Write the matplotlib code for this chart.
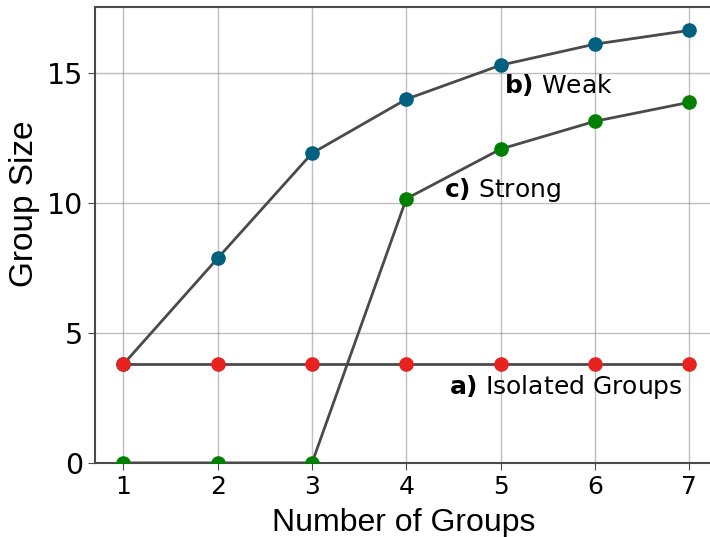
import matplotlib.pyplot as plt

# Tamanho médio dos grupos por número de grupos
n_grupos = [1, 2, 3, 4, 5, 6, 7]
isolados = [3.8, 3.8, 3.8, 3.8, 3.8, 3.8, 3.8]
fraco = [3.8, 7.88, 11.92, 14.0, 15.31, 16.12, 16.65]
forte = [0.0, 0.0, 0.0, 10.17, 12.08, 13.15, 13.88]

cor_linha = '#4a4a4a'
plt.rcParams['mathtext.fontset'] = 'dejavusans'

fig = plt.figure(figsize=(7.1, 5.37), dpi=100)
ax = fig.add_axes([0.134, 0.138, 0.87, 0.849])

# curvas: (valores, cor do marcador)
for serie, cor in [(fraco, '#00607f'), (forte, '#008000'), (isolados, '#e8231f')]:
    ax.plot(n_grupos, serie, '-o', color=cor_linha, lw=2, ms=9.5,
            mfc=cor, mec=cor, zorder=3)

fs_txt = 18
ax.text(5.04, 14.55, r'$\bf{b)}$ Weak', fontsize=fs_txt, va='center')
ax.text(4.4, 10.5, r'$\bf{c)}$ Strong', fontsize=fs_txt, va='center')
ax.text(4.45, 2.92, r'$\bf{a)}$ Isolated Groups', fontsize=fs_txt, va='center')

ax.set_xlim(0.7, 7.25)
ax.set_ylim(0, 17.55)
ax.set_xticks(n_grupos)
ax.set_yticks([0, 5, 10, 15])
ax.tick_params(axis='x', labelsize=18, length=5, color=cor_linha)
ax.tick_params(axis='y', labelsize=20.5, length=5, color=cor_linha)
ax.set_xlabel('Number of Groups', fontsize=23, family='Liberation Sans', labelpad=7)
ax.set_ylabel('Group Size', fontsize=24, family='Liberation Sans')
ax.yaxis.set_label_coords(-0.09, 0.568)
ax.grid(True, color='gray', alpha=0.5, lw=1)
for s in ax.spines.values():
    s.set_color(cor_linha)
    s.set_linewidth(1.5)

fig.savefig('out.png', dpi=100)
